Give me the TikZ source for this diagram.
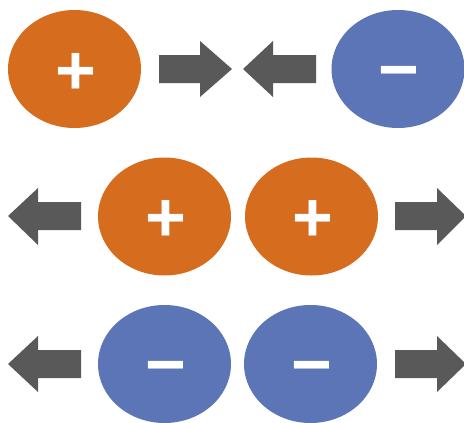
\documentclass[tikz,border=0pt]{standalone}
\usepackage{fontspec}
\newfontfamily\signfont{Liberation Sans}
\usetikzlibrary{shapes.geometric,calc}
\definecolor{chargeorange}{RGB}{213,108,30}
\definecolor{chargeblue}{RGB}{92,117,182}
\definecolor{arrowgray}{RGB}{89,89,89}
\tikzset{
  ball/.style={ellipse, draw=none, inner sep=0pt, minimum width=133pt, minimum height=118pt},
  posball/.style={ball, fill=chargeorange},
  negball/.style={ball, fill=chargeblue},
  sign/.style={anchor=base, text=white, inner sep=0pt, font=\signfont\bfseries\fontsize{70}{70}\selectfont},
  blockarrow/.style={fill=arrowgray, draw=none}
}
\begin{document}
\begin{tikzpicture}[x=1pt,y=-1pt]
\useasboundingbox (0,0) rectangle (464,423);
% top row
\node[posball] (a1) at (74.5,69) {};
\node[negball] (a2) at (398,69) {};
\node[sign] (a1s) at ($(a1.center)+(1,25)$) {+};
\node[sign] (a2s) at ($(a2.center)+(1,24)$) {−};
\fill[blockarrow] (159,55) -- (200,55) -- (200,41) -- (232,69) -- (200,97) -- (200,83) -- (159,83) -- cycle;
\fill[blockarrow] (316,55) -- (273,55) -- (273,41) -- (243,69) -- (273,97) -- (273,83) -- (316,83) -- cycle;
% middle row
\node[posball] (b1) at (164.5,216.5) {};
\node[posball] (b2) at (311.5,216.5) {};
\node[sign] (b1s) at ($(b1.center)+(1,25)$) {+};
\node[sign] (b2s) at ($(b2.center)+(1,25)$) {+};
\fill[blockarrow] (81,202) -- (38,202) -- (38,188) -- (8,216) -- (38,245) -- (38,230) -- (81,230) -- cycle;
\fill[blockarrow] (395,202) -- (437,202) -- (437,188) -- (466,216) -- (437,245) -- (437,230) -- (395,230) -- cycle;
% bottom row
\node[negball] (c1) at (164.5,364) {};
\node[negball] (c2) at (310.5,364) {};
\node[sign] (c1s) at ($(c1.center)+(1,24)$) {−};
\node[sign] (c2s) at ($(c2.center)+(1,24)$) {−};
\fill[blockarrow] (81,350) -- (38,350) -- (38,336) -- (8,364) -- (38,392) -- (38,378) -- (81,378) -- cycle;
\fill[blockarrow] (395,350) -- (437,350) -- (437,336) -- (466,364) -- (437,392) -- (437,378) -- (395,378) -- cycle;
\end{tikzpicture}
\end{document}
